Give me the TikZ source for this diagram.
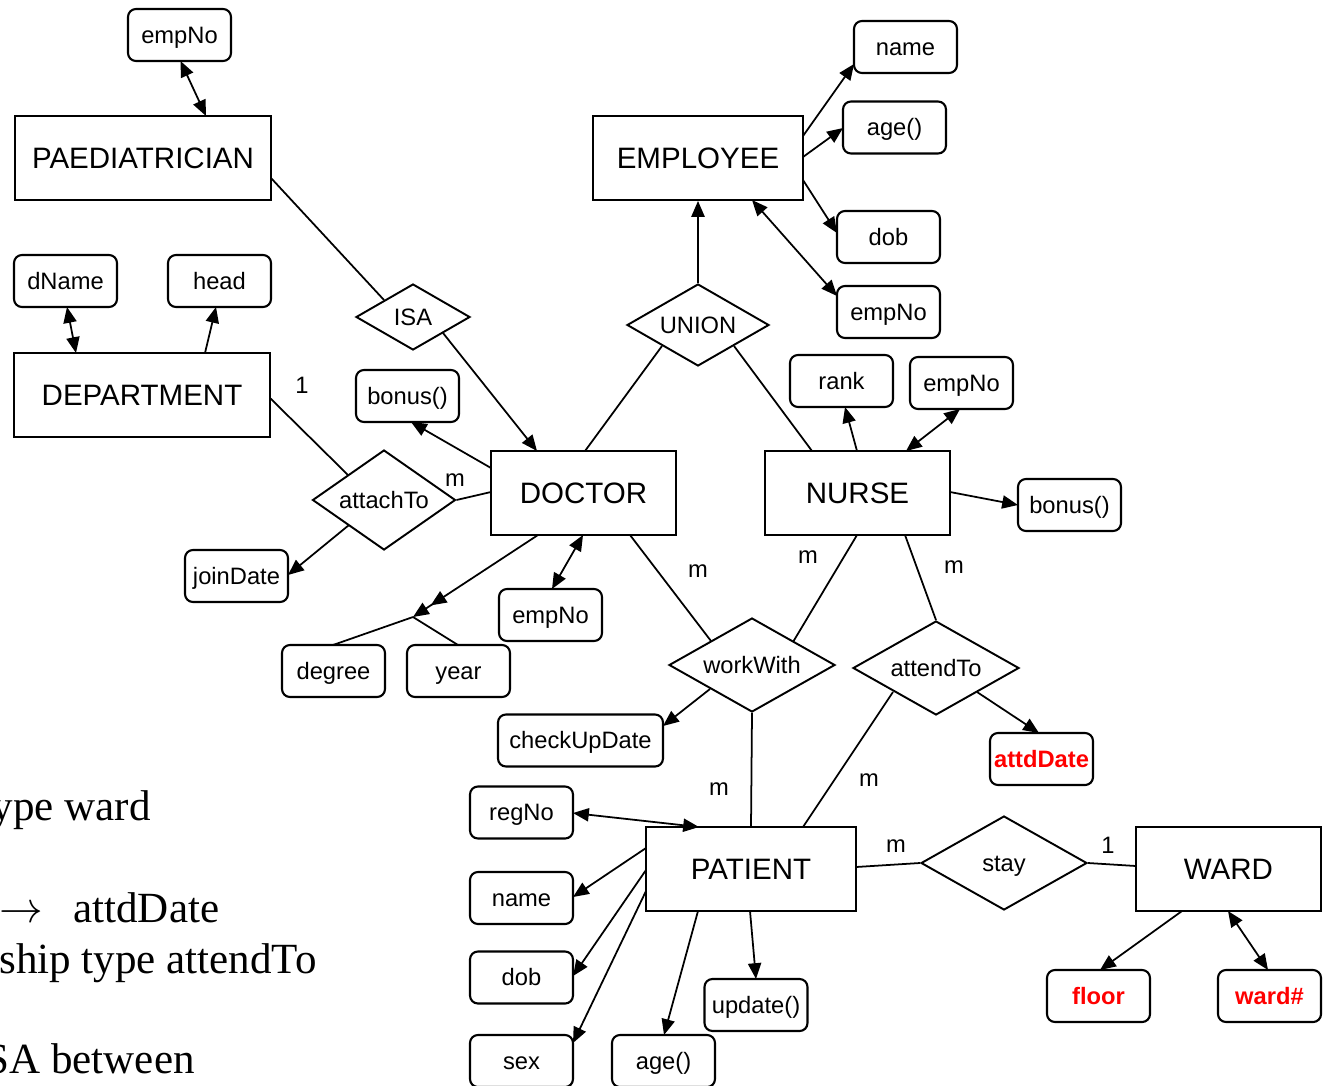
\documentclass[tikz,border=0pt]{standalone}
\usepackage{fontspec}
\setmainfont{Liberation Sans}
\newfontfamily\notefont{Liberation Serif}
\usetikzlibrary{arrows.meta,shapes.geometric}

\begin{document}
\begin{tikzpicture}[x=0.02cm,y=-0.02cm,
  ent/.style={draw, line width=1.1pt, minimum height=1.68cm, inner sep=0pt,
    font=\fontsize{16.8}{19}\selectfont},
  attr/.style={draw, line width=1.2pt, rounded corners=4.5pt, minimum width=2.06cm,
    minimum height=1.04cm, inner sep=0pt, text height=9.6pt, text depth=0pt,
    font=\fontsize{13.5}{16}\selectfont},
  rel/.style={draw, diamond, line width=1.1pt, inner sep=0pt, text height=9.6pt,
    text depth=0pt, font=\fontsize{13.5}{16}\selectfont},
  key/.style={text=red, font=\fontsize{13.5}{16}\selectfont\bfseries},
  card/.style={inner sep=0pt, font=\fontsize{13.5}{16}\selectfont},
  note/.style={inner sep=0pt, anchor=base east, font=\notefont\fontsize{24.5}{29}\selectfont},
  link/.style={line width=1pt},
  arr/.style={link, -{Triangle[length=9pt,width=7.5pt]}},
  darr/.style={link, {Triangle[length=9pt,width=7.5pt]}-{Triangle[length=9pt,width=7.5pt]}},
  multi/.style={link, -{Triangle[length=9pt,width=7.5pt,sep=3pt]Triangle[length=9pt,width=7.5pt]}},
]
\useasboundingbox (0,0) rectangle (1324,1085);
\clip (0,0) rectangle (1324,1085);

% entities
\node[ent, minimum width=5.12cm] (pae)  at (143,158)    {PAEDIATRICIAN};
\node[ent, minimum width=4.2cm]  (emp)  at (698,158)    {EMPLOYEE};
\node[ent, minimum width=5.12cm] (dept) at (142,395)    {DEPARTMENT};
\node[ent, minimum width=3.7cm]  (doc)  at (583.5,493)  {DOCTOR};
\node[ent, minimum width=3.7cm]  (nur)  at (857.5,493)  {NURSE};
\node[ent, minimum width=4.2cm]  (pat)  at (751,869)    {PATIENT};
\node[ent, minimum width=3.7cm]  (ward) at (1228.5,869) {WARD};

% relationships
\node[rel, shape aspect=1.73, minimum width=2.28cm, minimum height=1.32cm] (isa)  at (413,317)  {ISA};
\node[rel, shape aspect=1.73, minimum width=2.84cm, minimum height=1.64cm] (un)   at (698,325)  {UNION};
\node[rel, shape aspect=1.43, minimum width=2.86cm, minimum height=2.0cm]  (att)  at (384,500)  {attachTo};
\node[rel, shape aspect=1.77, minimum width=3.32cm, minimum height=1.88cm] (ww)   at (752,665)  {workWith};
\node[rel, shape aspect=1.77, minimum width=3.32cm, minimum height=1.88cm] (at)   at (936,668)  {attendTo};
\node[rel, shape aspect=1.77, minimum width=3.32cm, minimum height=1.88cm] (stay) at (1004,863) {stay};

% attributes
\node[attr] (aPaeNo)    at (179.5,35)    {empNo};
\node[attr] (aEmpName)  at (905.5,47)    {name};
\node[attr] (aEmpAge)   at (894.5,127.5) {age()};
\node[attr] (aEmpDob)   at (888.5,237)   {dob};
\node[attr] (aEmpNo)    at (888.5,312)   {empNo};
\node[attr] (aDName)    at (65.5,281)    {dName};
\node[attr] (aHead)     at (219.5,281)   {head};
\node[attr] (aDocBonus) at (407.5,396)   {bonus()};
\node[attr] (aRank)     at (841.5,381)   {rank};
\node[attr] (aNurNo)    at (961.5,383)   {empNo};
\node[attr] (aNurBonus) at (1069.5,505)  {bonus()};
\node[attr] (aJoin)     at (236.5,576)   {joinDate};
\node[attr] (aDocNo)    at (550.5,615)   {empNo};
\node[attr] (aDegree)   at (333.5,671)   {degree};
\node[attr] (aYear)     at (458.5,671)   {year};
\node[attr, minimum width=3.3cm] (aCheck) at (580.5,740.5) {checkUpDate};
\node[attr, key] (aAttd) at (1041.5,759) {attdDate};
\node[attr] (aReg)      at (521.5,812.5) {regNo};
\node[attr] (aPatName)  at (521.5,898)   {name};
\node[attr] (aPatDob)   at (521.5,977.5) {dob};
\node[attr] (aSex)      at (521.5,1061)  {sex};
\node[attr] (aPatAge)   at (663.5,1061)  {age()};
\node[attr] (aUpd)      at (756,1005)    {update()};
\node[attr, key] (aFloor)  at (1098.5,996) {floor};
\node[attr, key] (aWardNo) at (1269.5,996) {ward\#};

% cardinalities
\node[card] (c1) at (302,385)  {1};
\node[card] (c2) at (455,480)  {m};
\node[card] (c3) at (698,571)  {m};
\node[card] (c4) at (808,557)  {m};
\node[card] (c5) at (954,567)  {m};
\node[card] (c6) at (719,789)  {m};
\node[card] (c7) at (869,780)  {m};
\node[card] (c8) at (896,846)  {m};
\node[card] (c9) at (1108,845) {1};

% PAEDIATRICIAN, ISA, DEPARTMENT
\draw[darr] ([shift={(1,26)}]aPaeNo.center) -- ([shift={(63,-42)}]pae.center);
\draw[link] ([shift={(128,20)}]pae.center) -- ([shift={(-29,-17)}]isa.center);
\draw[arr]  ([shift={(30,16)}]isa.center) -- ([shift={(-46.5,-42)}]doc.center);
\draw[darr] ([shift={(1.5,26)}]aDName.center) -- ([shift={(-66,-42)}]dept.center);
\draw[arr]  ([shift={(63,-42)}]dept.center) -- ([shift={(-3.5,26)}]aHead.center);
\draw[link] ([shift={(128,3)}]dept.center) -- ([shift={(-36,-25)}]att.center);

% DOCTOR
\draw[arr]  ([shift={(-92.5,-25)}]doc.center) -- ([shift={(3.5,26)}]aDocBonus.center);
\draw[link] (att.east) -- ([shift={(-92.5,-1)}]doc.center);
\draw[arr]  ([shift={(-35,25)}]att.center) -- ([shift={(51.5,-1)}]aJoin.center);
\coordinate (jn) at (413,617);
\draw[multi] ([shift={(-45.5,42)}]doc.center) -- (jn);
\draw[link] (jn) -- ([shift={(-0.5,-26)}]aDegree.center);
\draw[link] (jn) -- ([shift={(-0.5,-26)}]aYear.center);
\draw[darr] ([shift={(-0.5,42)}]doc.center) -- ([shift={(1.5,-26)}]aDocNo.center);
\draw[link] ([shift={(46.5,42)}]doc.center) -- ([shift={(-41,-24)}]ww.center);

% EMPLOYEE and UNION
\draw[arr]  (un.north) -- (emp.south);
\draw[link] ([shift={(-36,21)}]un.center) -- ([shift={(1.5,-42)}]doc.center);
\draw[link] ([shift={(36,21)}]un.center) -- ([shift={(-45.5,-42)}]nur.center);
\draw[arr]  ([shift={(105,-22)}]emp.center) -- ([shift={(-51.5,17)}]aEmpName.center);
\draw[arr]  ([shift={(105,-1)}]emp.center) -- ([shift={(-51.5,0.5)}]aEmpAge.center);
\draw[arr]  ([shift={(105,22)}]emp.center) -- ([shift={(-51.5,-4)}]aEmpDob.center);
\draw[darr] ([shift={(54,42)}]emp.center) -- ([shift={(-51.5,-16)}]aEmpNo.center);

% NURSE
\draw[arr]  ([shift={(-0.5,-42)}]nur.center) -- ([shift={(3.5,26)}]aRank.center);
\draw[darr] ([shift={(48.5,-42)}]nur.center) -- ([shift={(-1.5,26)}]aNurNo.center);
\draw[arr]  ([shift={(92.5,-1)}]nur.center) -- ([shift={(-51.5,0)}]aNurBonus.center);
\draw[link] ([shift={(-0.5,42)}]nur.center) -- ([shift={(41,-23)}]ww.center);
\draw[link] ([shift={(47.5,42)}]nur.center) -- (at.north);

% workWith, attendTo
\draw[arr]  ([shift={(-42,24)}]ww.center) -- ([shift={(82.5,-14.5)}]aCheck.center);
\draw[link] (ww.south) -- ([shift={(0,-42)}]pat.center);
\draw[link] ([shift={(-43,24)}]at.center) -- ([shift={(52,-42)}]pat.center);
\draw[arr]  ([shift={(41,24)}]at.center) -- ([shift={(-2.5,-26)}]aAttd.center);

% PATIENT
\draw[darr] ([shift={(51.5,0.5)}]aReg.center) -- ([shift={(-52,-42)}]pat.center);
\draw[arr]  ([shift={(-105,-21)}]pat.center) -- ([shift={(51.5,-1)}]aPatName.center);
\draw[arr]  ([shift={(-105,1)}]pat.center) -- ([shift={(51.5,-1.5)}]aPatDob.center);
\draw[arr]  ([shift={(-105,22)}]pat.center) -- ([shift={(51.5,-18)}]aSex.center);
\draw[arr]  ([shift={(-53,42)}]pat.center) -- ([shift={(0.5,-26)}]aPatAge.center);
\draw[arr]  ([shift={(-1,42)}]pat.center) -- ([shift={(0,-26)}]aUpd.center);
\draw[link] ([shift={(105,-2)}]pat.center) -- (stay.west);

% WARD
\draw[link] (stay.east) -- ([shift={(-92.5,-3)}]ward.center);
\draw[arr]  ([shift={(-46.5,42)}]ward.center) -- ([shift={(1.5,-26)}]aFloor.center);
\draw[darr] ([shift={(-0.5,42)}]ward.center) -- ([shift={(-1.5,-26)}]aWardNo.center);

% running text at the left margin
\node[note] (n1) at (151,820) {ype ward};
\node[note, anchor=base west] (n2a) at (-1,922) {$\rightarrow$};
\node[note, anchor=base west] (n2b) at (73,922) {attdDate};
\node[note] (n3) at (317,973) {ship type attendTo};
\node[note] (n4) at (195,1073) {SA between};
\end{tikzpicture}
\end{document}
